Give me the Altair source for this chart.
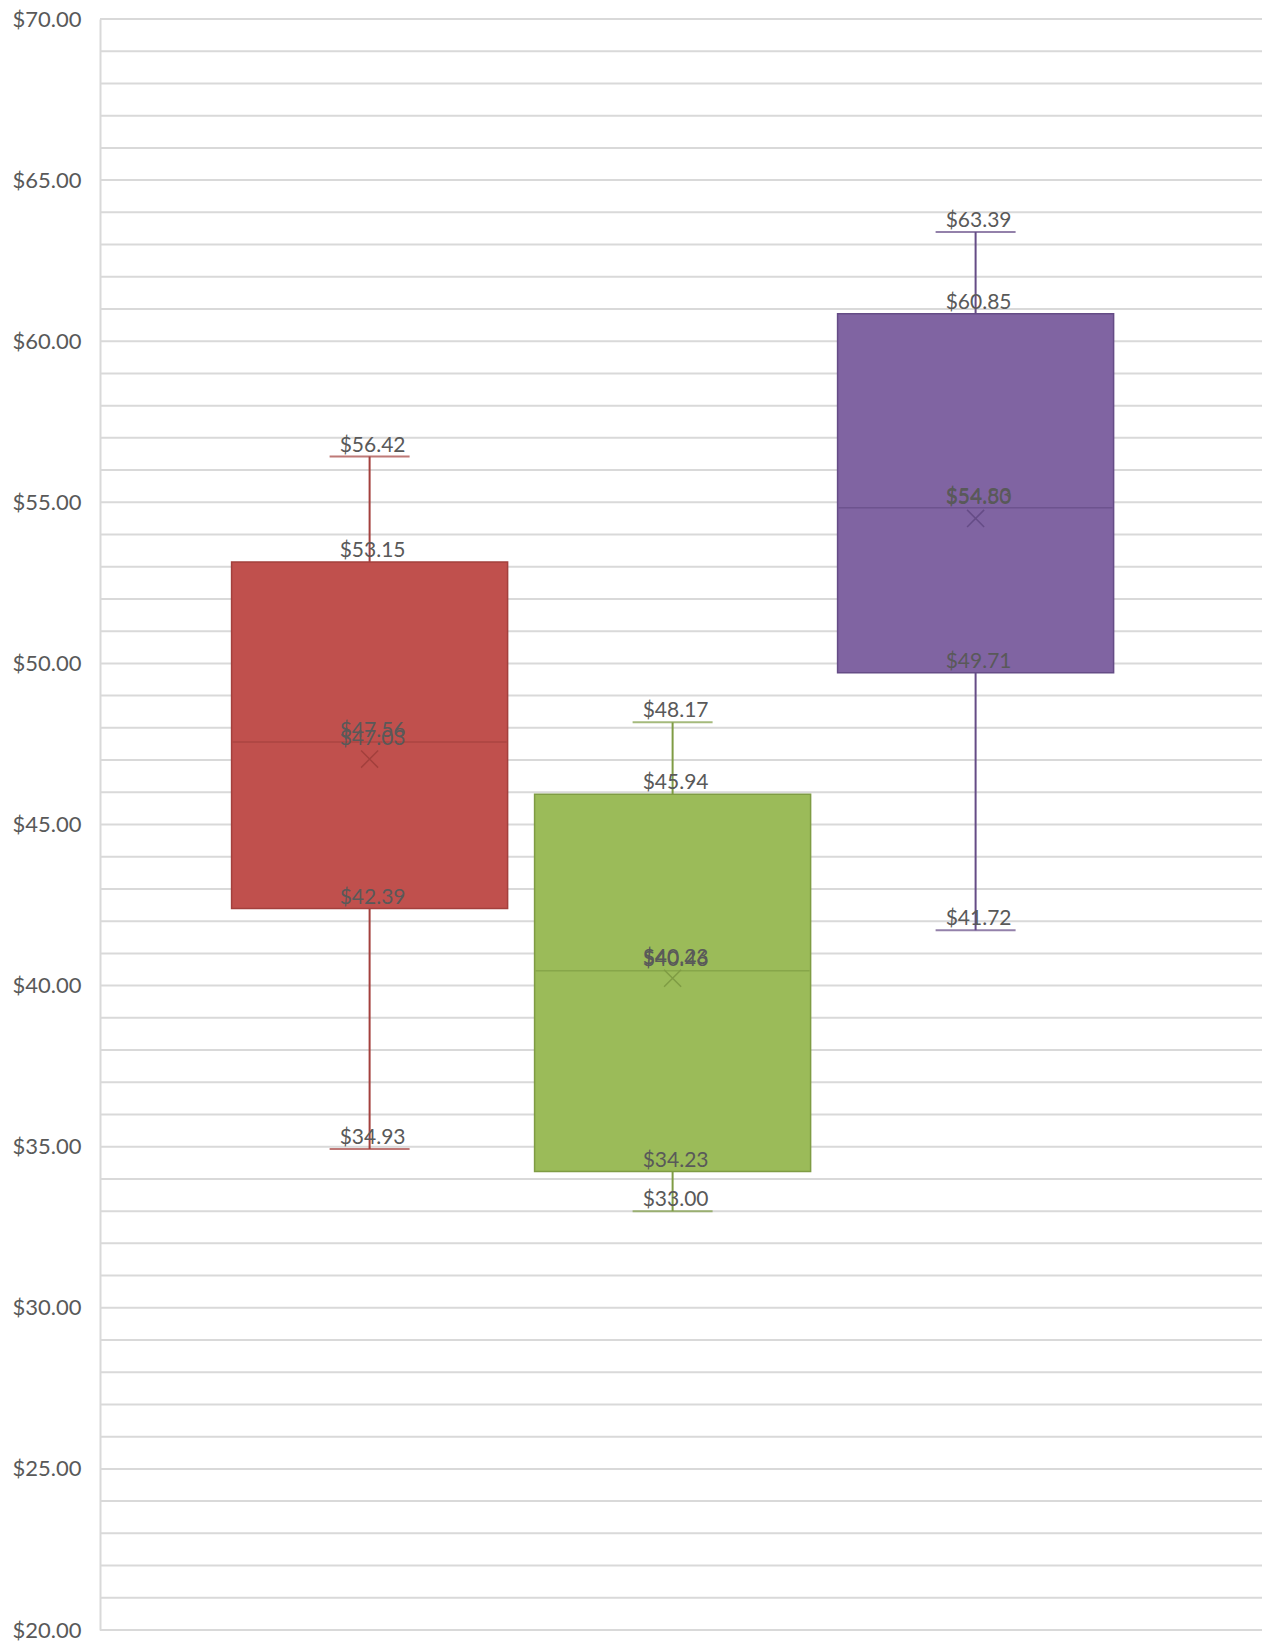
import altair as alt
import pandas as pd

# ---- data ----
categories = ["Series 1", "Series 2", "Series 3"]
mins = [34.93, 33.00, 41.72]
q1s = [42.39, 34.23, 49.71]
medians = [47.56, 40.46, 54.83]
means = [47.03, 40.23, 54.50]
q3s = [53.15, 45.94, 60.85]
maxs = [56.42, 48.17, 63.39]

y_grid_values = list(range(20, 71))
y_label_values = list(range(20, 71, 5))

fill_colors = ["#C0504D", "#9BBB59", "#8064A2"]
stroke_colors = ["#A3403D", "#7F9C44", "#654C86"]

box_df = pd.DataFrame({
    "cat": categories, "min": mins, "q1": q1s, "median": medians,
    "mean": means, "q3": q3s, "max": maxs,
})

label_rows = []
for i, c in enumerate(categories):
    for kind, vals in [("min", mins), ("q1", q1s), ("median", medians),
                       ("q3", q3s), ("max", maxs)]:
        label_rows.append({"cat": c, "kind": kind, "v": vals[i]})
labels_df = pd.DataFrame(label_rows)
mean_labels_df = pd.DataFrame({"cat": categories, "v": means})
grid_df = pd.DataFrame({"g": y_grid_values})

FONT = "Lato"
TEXT_COLOR = "#595959"
GRID_COLOR = "#D9D9D9"

x_enc = alt.X("cat:N", sort=categories, axis=None,
              scale=alt.Scale(domain=categories, paddingInner=0.089,
                              paddingOuter=0.462, align=0.47))
y_scale = alt.Scale(domain=[20, 70], nice=False, zero=False)
fill_enc = alt.Color("cat:N", scale=alt.Scale(domain=categories, range=fill_colors), legend=None)
stroke_enc = alt.Stroke("cat:N", scale=alt.Scale(domain=categories, range=stroke_colors), legend=None)
line_color_enc = alt.Color("cat:N", scale=alt.Scale(domain=categories, range=stroke_colors), legend=None)

base = alt.Chart(box_df)

grid_layer = alt.Chart(grid_df).mark_rule(color=GRID_COLOR, strokeWidth=2).encode(
    y=alt.Y("g:Q", scale=y_scale, title=None,
            axis=alt.Axis(values=y_label_values, grid=False,
                          domainColor=GRID_COLOR, domainWidth=2,
                          ticks=False, labelPadding=19, labelFont=FONT,
                          labelFontSize=22, labelColor=TEXT_COLOR,
                          labelOverlap=False, format="$.2f")),
)

whisk_low = base.mark_rule(strokeWidth=2).encode(
    x=x_enc, y=alt.Y("min:Q", scale=y_scale), y2="q1:Q", stroke=stroke_enc)
whisk_high = base.mark_rule(strokeWidth=2).encode(
    x=x_enc, y=alt.Y("q3:Q", scale=y_scale), y2="max:Q", stroke=stroke_enc)

cap_min = base.mark_tick(size=80, thickness=2).encode(
    x=x_enc, y=alt.Y("min:Q", scale=y_scale), color=line_color_enc)
cap_max = base.mark_tick(size=80, thickness=2).encode(
    x=x_enc, y=alt.Y("max:Q", scale=y_scale), color=line_color_enc)

box = base.mark_bar(strokeWidth=1.5).encode(
    x=x_enc, y=alt.Y("q1:Q", scale=y_scale), y2="q3:Q",
    fill=fill_enc, stroke=stroke_enc)

median_tick = base.mark_tick(size=274, thickness=1.5).encode(
    x=x_enc, y=alt.Y("median:Q", scale=y_scale), color=line_color_enc)

mean_point = base.mark_point(shape="M-1,-1L1,1M1,-1L-1,1", size=290,
                             filled=False, strokeWidth=1.5, opacity=1).encode(
    x=x_enc, y=alt.Y("mean:Q", scale=y_scale), color=line_color_enc)

value_labels = alt.Chart(labels_df).mark_text(
    font=FONT, fontSize=21, color=TEXT_COLOR, baseline="alphabetic",
    align="center", dy=-5, dx=3).encode(
    x=x_enc, y=alt.Y("v:Q", scale=y_scale),
    text=alt.Text("v:Q", format="$.2f"))

mean_labels = alt.Chart(mean_labels_df).mark_text(
    font=FONT, fontSize=21, color=TEXT_COLOR, baseline="alphabetic",
    align="center", dy=-14, dx=3).encode(
    x=x_enc, y=alt.Y("v:Q", scale=y_scale),
    text=alt.Text("v:Q", format="$.2f"))

chart = alt.layer(
    grid_layer, whisk_low, whisk_high, cap_min, cap_max, box,
    median_tick, mean_point, value_labels, mean_labels
).properties(
    width=1162, height=1611,
    autosize=alt.AutoSizeParams(type="none"),
    padding={"left": 100, "top": 19, "right": 2, "bottom": 15},
    background="white",
).configure_view(strokeWidth=0)

chart.save("out.html", embed_options={"renderer": "svg", "actions": False})
